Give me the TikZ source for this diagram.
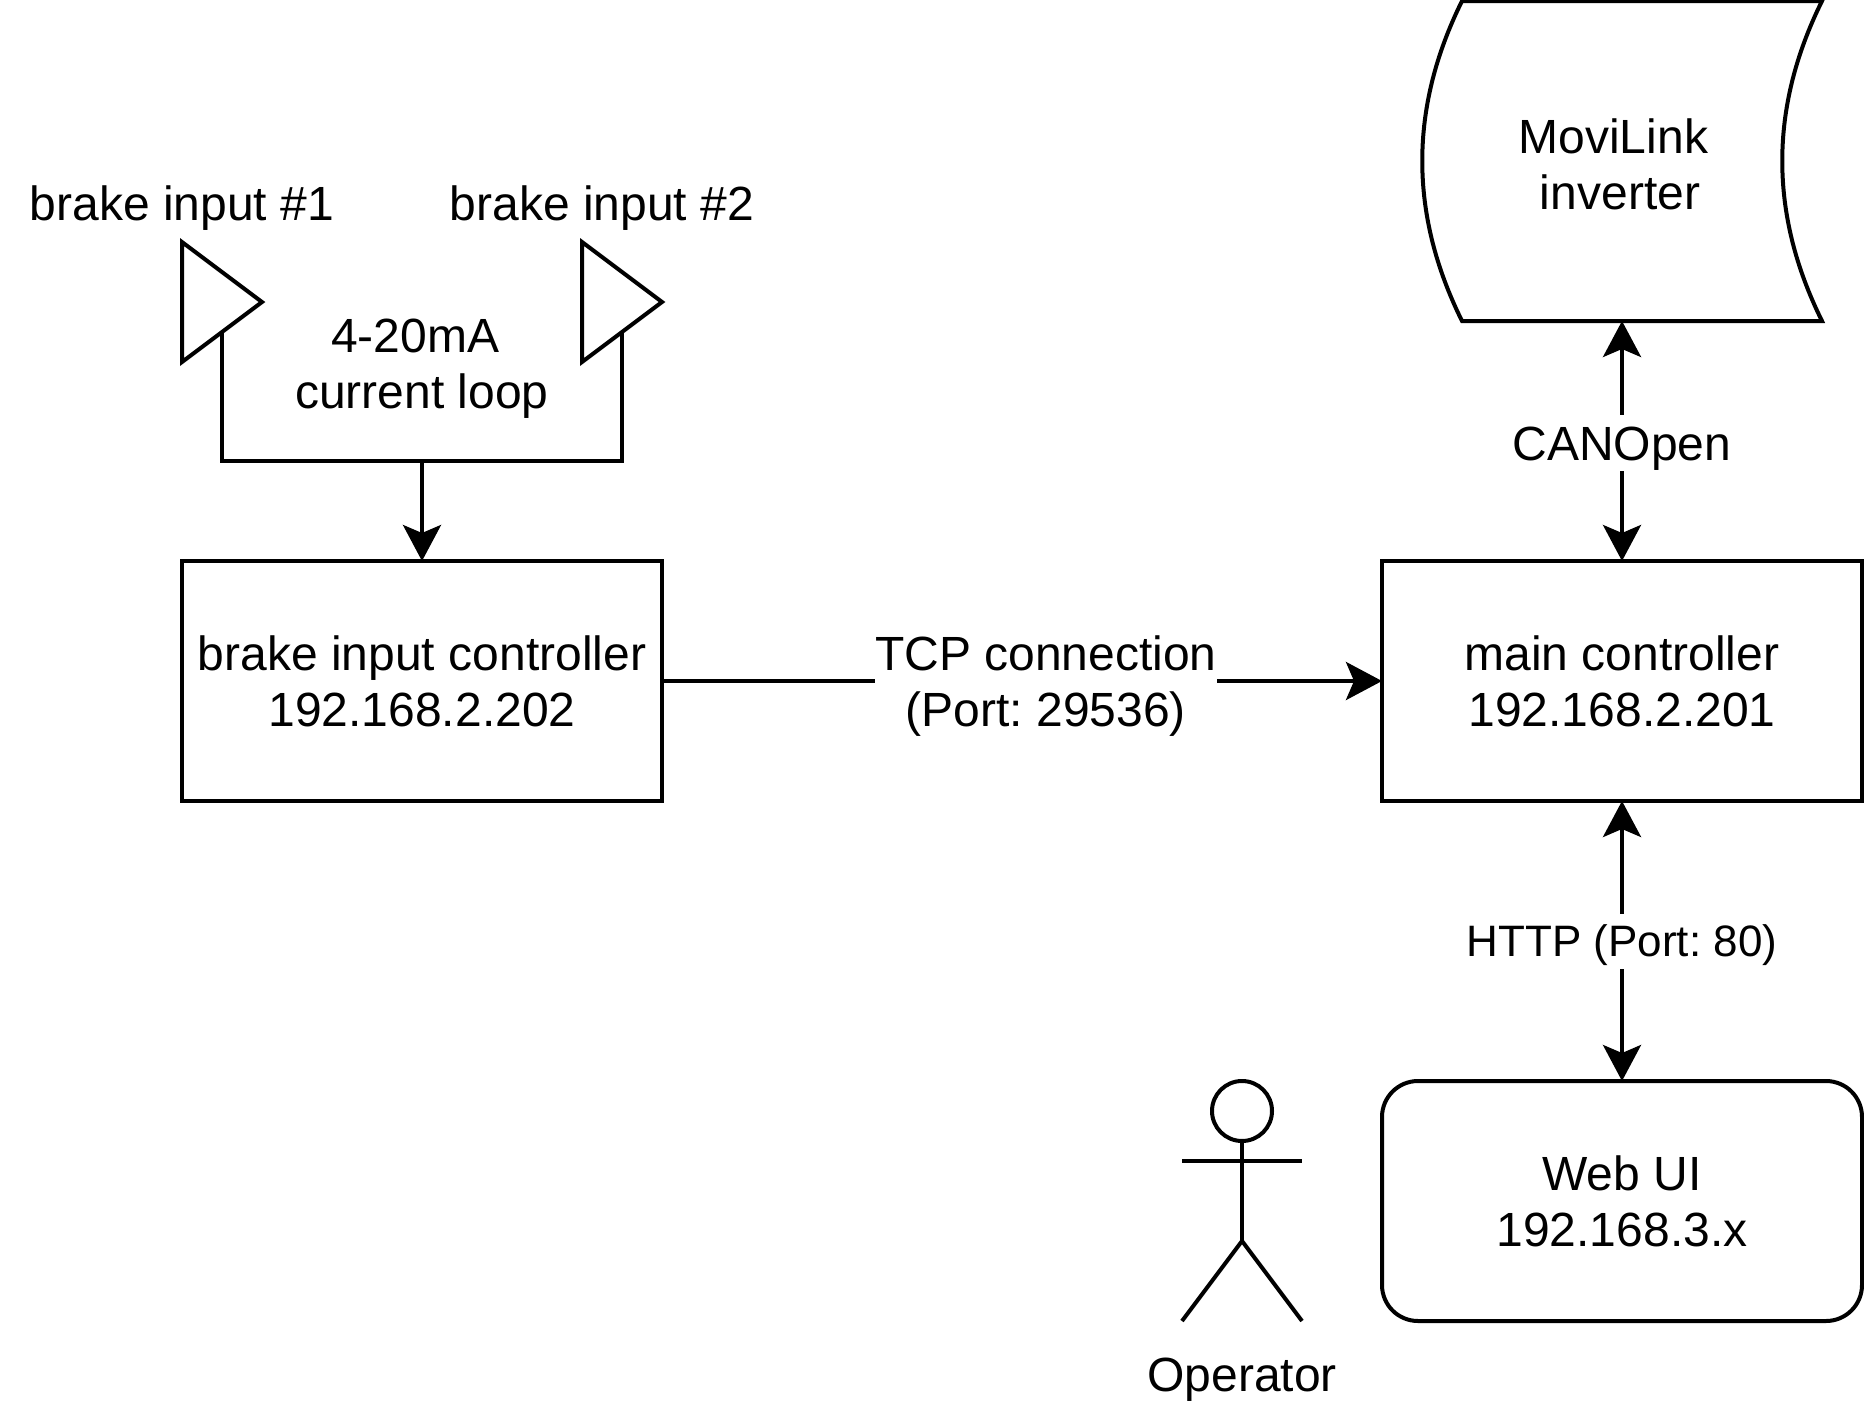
\documentclass[tikz,border=0pt]{standalone}
\usepackage{fontspec}
\setmainfont{Liberation Sans}
\frenchspacing
\usetikzlibrary{
  arrows.meta,
  shapes.geometric,
  calc
}
\tikzset{
  boxNode/.style={
    rectangle,
    draw,
    line width=2pt,
    minimum width=240pt,
    minimum height=120pt,
    inner sep=0pt,
    outer sep=0pt,
    align=center,
    font=\fontsize{24}{28}\selectfont
  }
}
\tikzset{
  textNode/.style={
    inner sep=0pt,
    outer sep=0pt,
    align=center,
    font=\fontsize{24}{28}\selectfont
  }
}
\tikzset{
  linkLabel/.style={
    textNode,
    fill=white,
    text height=23pt,
    text depth=5pt
  }
}
\tikzset{
  sensorNode/.style={
    isosceles triangle,
    isosceles triangle stretches,
    shape border rotate=0,
    draw,
    line width=2pt,
    minimum width=60pt,
    minimum height=40pt,
    inner sep=0pt,
    outer sep=0pt,
    anchor=lower side
  }
}
\begin{document}
\begin{tikzpicture}[x=0.5pt, y=-0.5pt, line width=2pt,
    >={Stealth[length=18pt,width=19pt,inset=4pt]}]
    \useasboundingbox (0,0) rectangle (1864,1408);

    \node[boxNode] (brakeCtrl) at (422,681) {brake input controller\\192.168.2.202};
    \node[boxNode] (mainCtrl) at (1622,681) {main controller\\192.168.2.201};
    \node[boxNode, rounded corners=18pt] (webUi) at (1622,1201) {Web UI\\192.168.3.x};
    \node[minimum width=200pt, minimum height=160pt, inner sep=0pt, outer sep=0pt] (inverter) at (1622,161) {};
    \node[textNode] (inverterLabel) at (1620,164) {MoviLink~\null\\inverter};

    % tape outline of the inverter
    \draw ($(inverter.north west)+(40,0)$) -- (inverter.north east)
      .. controls ($(inverter.north east)+(-53,107)$) and ($(inverter.south east)+(-53,-107)$)
      .. (inverter.south east)
      -- ($(inverter.south west)+(40,0)$)
      .. controls ($(inverter.south west)+(-13,-107)$) and ($(inverter.north west)+(-13,107)$)
      .. ($(inverter.north west)+(40,0)$) -- cycle;

    \foreach \Name/\Left/\Center/\Text in {inputOne/182/182/{brake input \#1}, inputTwo/582/602/{brake input \#2}}{
      \node[sensorNode] (\Name) at (\Left,302) {};
      \node[textNode] (\Name Label) at (\Center,208) {\Text};
    }

    \node[textNode] (loopLabel) at (422,369) {4-20mA~\null\\current loop};
    \coordinate (loopJoint) at (422,461);

    \draw (inputOne.right side) |- (loopJoint) -| (inputTwo.right side);
    \draw[->] (loopJoint) -- (brakeCtrl);

    \draw[->] (brakeCtrl) -- node[textNode, fill=white, pos=0.533, yshift=-2.5pt] (tcpLabel)
      {TCP connection\\(Port: 29536)} (mainCtrl);
    \draw[<->] (inverter) -- node[linkLabel, pos=0.507] (canLabel) {CANOpen} (mainCtrl);
    \draw[<->] (mainCtrl) -- node[linkLabel, font=\fontsize{22}{25}\selectfont, text height=21.5pt, text depth=6pt] (httpLabel)
      {HTTP (Port: 80)} (webUi);

    % operator figure
    \node[circle, draw, minimum size=30pt, inner sep=0pt, outer sep=0pt] (head) at (1242,1111) {};
    \coordinate (hip) at (1242,1241);
    \draw (head) -- (hip);
    \draw (1182,1161) -- (1302,1161);
    \draw (1182,1321) -- (hip) -- (1302,1321);
    \node[textNode] (operatorLabel) at (1242,1380) {Operator};
\end{tikzpicture}
\end{document}
